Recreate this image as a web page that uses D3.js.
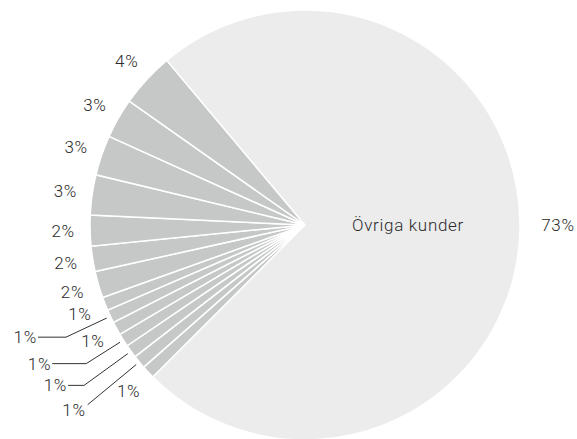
<!DOCTYPE html>
<html>
<head>
<meta charset="utf-8">
<script src="https://cdn.jsdelivr.net/npm/d3@7"></script>
<style>
  body { margin: 0; background: #fff; }
  text { font-family: Roboto, "Liberation Sans", sans-serif; font-weight: 300; fill: #2b2b2b; font-size: 17px; letter-spacing: 0.7px; }
</style>
</head>
<body>
<svg id="chart"></svg>
<script>
// slices in drawing order, clockwise from lower left
const categories = ["Kund 14", "Kund 13", "Kund 12", "Kund 11", "Kund 10", "Kund 9", "Kund 8",
    "Kund 7", "Kund 6", "Kund 5", "Kund 4", "Kund 3", "Kund 2", "Kund 1", "Övriga kunder"]
const shares = [1, 1, 1, 1, 1, 1, 1, 2.0, 1.9, 2.3, 3.0, 3.0, 3.0, 4.1, 73.4]

const width = 577, height = 439
const cx = 305, cy = 225, radius = 215
const toRad = Math.PI / 180

// how each small label is placed: leader elbow radius and horizontal tail (null = label next to the slice)
const leaders = [null, {r: 282, h: 0}, {r: 273, h: 16}, {r: 259, h: 34}, null, {r: 264, h: 28}, null]

const svg = d3.select('#chart')
    .attr('width', width)
    .attr('height', height)
const g = svg.append('g').attr('transform', `translate(${cx},${cy})`)

const pieData = d3.pie().sort(null).value(d => d)
    .startAngle(225 * toRad).endAngle(585 * toRad)(shares)
const arc = d3.arc().innerRadius(0).outerRadius(radius)
const last = shares.length - 1

//Draw pie
g.selectAll('path')
    .data(pieData)
    .join('path')
    .attr('d', arc)
    .attr('fill', (d, i) => i === last ? '#ebeceb' : '#c6c7c7')
    .attr('stroke', '#fff')
    .attr('stroke-width', 1.5)

const polar = (a, r) => [r * Math.sin(a), -r * Math.cos(a)]
const pct = v => Math.round(v) + '%'

//Labels
pieData.forEach((d, i) => {
    const mid = (d.startAngle + d.endAngle) / 2
    if (i === last) {
        g.append('text').attr('x', 47).attr('y', 0)
            .attr('dominant-baseline', 'central')
            .text(categories[i])
        g.append('text').attr('x', 253).attr('y', 0)
            .attr('text-anchor', 'middle').attr('dominant-baseline', 'central')
            .text(pct(d.data))
        return
    }
    const lead = leaders[i]
    if (!lead) {
        const [x, y] = polar(mid, 242)
        g.append('text').attr('x', x).attr('y', y)
            .attr('text-anchor', 'middle').attr('dominant-baseline', 'central')
            .text(pct(d.data))
        return
    }
    const p0 = polar(mid, 219)
    const p1 = polar(mid, lead.r)
    const p2 = [p1[0] - lead.h, p1[1]]
    g.append('polyline')
        .attr('points', [p0, p1, p2].map(p => p.join(',')).join(' '))
        .attr('fill', 'none')
        .attr('stroke', '#333')
        .attr('stroke-width', 1)
    const t = g.append('text')
        .attr('text-anchor', 'end')
        .attr('dominant-baseline', 'central')
        .text(pct(d.data))
    if (lead.h > 0) {
        t.attr('x', p2[0] - 1).attr('y', p2[1])
    } else {
        t.attr('x', p2[0] - 2).attr('y', p2[1] + 5)
    }
})
</script>
</body>
</html>
